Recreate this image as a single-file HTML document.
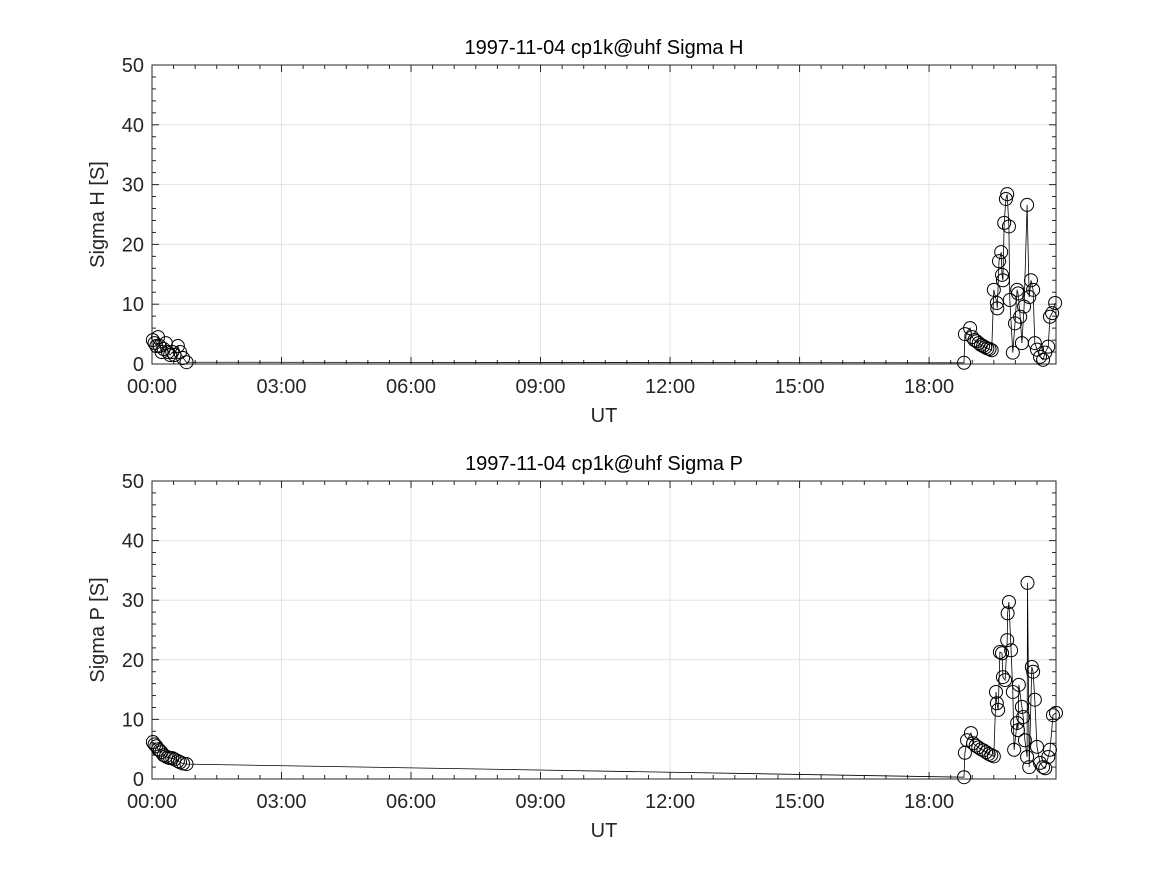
<!DOCTYPE html>
<html><head><meta charset="utf-8"><style>
body{margin:0;background:#fff}
svg{display:block;font-family:"Liberation Sans",sans-serif}
</style></head><body>
<svg id="chart" width="1167" height="875"></svg>
<script>
const timesH=[0.02,0.06,0.1,0.14,0.18,0.22,0.27,0.32,0.37,0.42,0.47,0.52,0.6,0.65,0.72,0.8,18.81,18.83,18.95,19.0,19.05,19.1,19.15,19.2,19.25,19.3,19.35,19.4,19.45,19.5,19.57,19.58,19.62,19.67,19.69,19.71,19.74,19.78,19.81,19.85,19.87,19.94,19.99,20.04,20.06,20.11,20.15,20.2,20.27,20.32,20.36,20.41,20.45,20.5,20.57,20.64,20.69,20.76,20.8,20.85,20.92];
const sigmaH=[4,3.5,3,4.5,3,2,2.5,3.5,2,1.5,2,1.5,3,2,1,0.3,0.2,5,6,4.5,4,3.8,3.5,3.2,3,2.8,2.6,2.5,2.3,12.4,10.2,9.3,17.2,18.7,14.9,14,23.6,27.6,28.4,23,10.7,1.9,6.8,12.4,11.8,7.9,3.5,9.6,26.6,11.2,14,12.4,3.5,2.4,1.2,0.7,1.9,2.9,7.9,8.5,10.2];
const timesP=[0.02,0.06,0.1,0.14,0.18,0.22,0.27,0.32,0.37,0.42,0.47,0.52,0.6,0.65,0.72,0.8,18.81,18.83,18.88,18.97,19.02,19.08,19.14,19.2,19.26,19.32,19.38,19.44,19.5,19.55,19.57,19.6,19.64,19.69,19.71,19.76,19.81,19.82,19.85,19.9,19.94,19.97,20.04,20.06,20.08,20.15,20.18,20.22,20.27,20.28,20.32,20.38,20.41,20.45,20.5,20.57,20.64,20.69,20.76,20.8,20.87,20.94];
const sigmaP=[6.2,5.8,5.5,5,4.8,4.5,4,3.8,3.6,3.5,3.5,3.3,3,2.8,2.6,2.5,0.3,4.4,6.5,7.7,6,5.6,5.3,5,4.8,4.5,4.2,4,3.8,14.6,12.7,11.6,21.3,21.1,17.1,16.6,23.3,27.8,29.7,21.6,14.6,4.9,9.4,8.2,15.8,12.1,10.4,6.5,3.7,32.9,2,18.8,18,13.3,5.4,2.7,2,1.8,3.7,4.9,10.7,11.1,13.6];
const xTickLabels=["00:00","03:00","06:00","09:00","12:00","15:00","18:00"];
const xTickHours=[0,3,6,9,12,15,18];
const yTicks=[0,10,20,30,40,50];

const NS="http://www.w3.org/2000/svg";
const svg=document.getElementById('chart');
function mk(tag,attrs,parent){const e=document.createElementNS(NS,tag);for(const k in attrs)e.setAttribute(k,attrs[k]);(parent||svg).appendChild(e);return e;}
const X0=152,X1=1056,XMAX=20.94;
function drawPanel(top,bottom,title,ylabel,times,vals,key){
  const g=mk('g',{});
  
  
  const xs=h=>X0+(h/XMAX)*(X1-X0);
  const ys=v=>bottom-(v/50)*(bottom-top);
  // grid
  xTickHours.forEach(h=>{const l=mk('line',{x1:xs(h),x2:xs(h),y1:top,y2:bottom,stroke:'#e3e3e3','stroke-width':1},g);});
  yTicks.forEach(v=>{const l=mk('line',{x1:X0,x2:X1,y1:ys(v),y2:ys(v),stroke:'#e3e3e3','stroke-width':1},g);});
  const box=mk('rect',{x:X0,y:top,width:X1-X0,height:bottom-top,fill:'none',stroke:'#262626','stroke-width':1},g);
  
  
  // ticks
  xTickHours.forEach((h,i)=>{
    mk('line',{x1:xs(h),x2:xs(h),y1:bottom,y2:bottom-7,stroke:'#262626'},g);
    mk('line',{x1:xs(h),x2:xs(h),y1:top,y2:top+7,stroke:'#262626'},g);
    const t=mk('text',{x:xs(h),y:bottom+29,'text-anchor':'middle','font-size':20,fill:'#262626'},g);
    t.textContent=xTickLabels[i];
    
    
  });
  for(let v=0;v<=50;v+=2){
    const len=(v%10===0)?7:4;
    mk('line',{x1:X0,x2:X0+len,y1:ys(v),y2:ys(v),stroke:'#262626'},g);
    mk('line',{x1:X1,x2:X1-len,y1:ys(v),y2:ys(v),stroke:'#262626'},g);
  }
  for(let h=0.5;h<XMAX;h+=0.5){ if(h%3===0)continue;
    mk('line',{x1:xs(h),x2:xs(h),y1:bottom,y2:bottom-4,stroke:'#262626'},g);
    mk('line',{x1:xs(h),x2:xs(h),y1:top,y2:top+4,stroke:'#262626'},g);}
  yTicks.forEach(v=>{
    const t=mk('text',{x:X0-8,y:ys(v)+7,'text-anchor':'end','font-size':20,fill:'#262626'},g);
    t.textContent=v;
    
    
  });
  const tt=mk('text',{x:(X0+X1)/2,y:top-11,'text-anchor':'middle','font-size':20,fill:'#000'},g);
  tt.textContent=title;
  
  
  const xl=mk('text',{x:(X0+X1)/2,y:bottom+58,'text-anchor':'middle','font-size':20,fill:'#262626'},g);
  xl.textContent='UT';
  
  
  const yl=mk('text',{x:0,y:0,'text-anchor':'middle','font-size':20,fill:'#262626',transform:`translate(104,${(top+bottom)/2}) rotate(-90)`},g);
  yl.textContent=ylabel;
  
  
  // series
  const pts=times.map((h,i)=>xs(h).toFixed(1)+','+ys(vals[i]).toFixed(1)).join(' ');
  const pl=mk('polyline',{points:pts,fill:'none',stroke:'#000','stroke-width':0.8},g);
  
  
  times.forEach((h,i)=>{
    const c=mk('circle',{cx:xs(h),cy:ys(vals[i]),r:6.5,fill:'none',stroke:'#000','stroke-width':1},g);
    
    
  });
}
drawPanel(65,364,'1997-11-04  cp1k@uhf Sigma H','Sigma H [S]',timesH,sigmaH,'sigma-h');
drawPanel(481,779,'1997-11-04  cp1k@uhf Sigma P','Sigma P [S]',timesP,sigmaP,'sigma-p');
</script>
</body></html>
